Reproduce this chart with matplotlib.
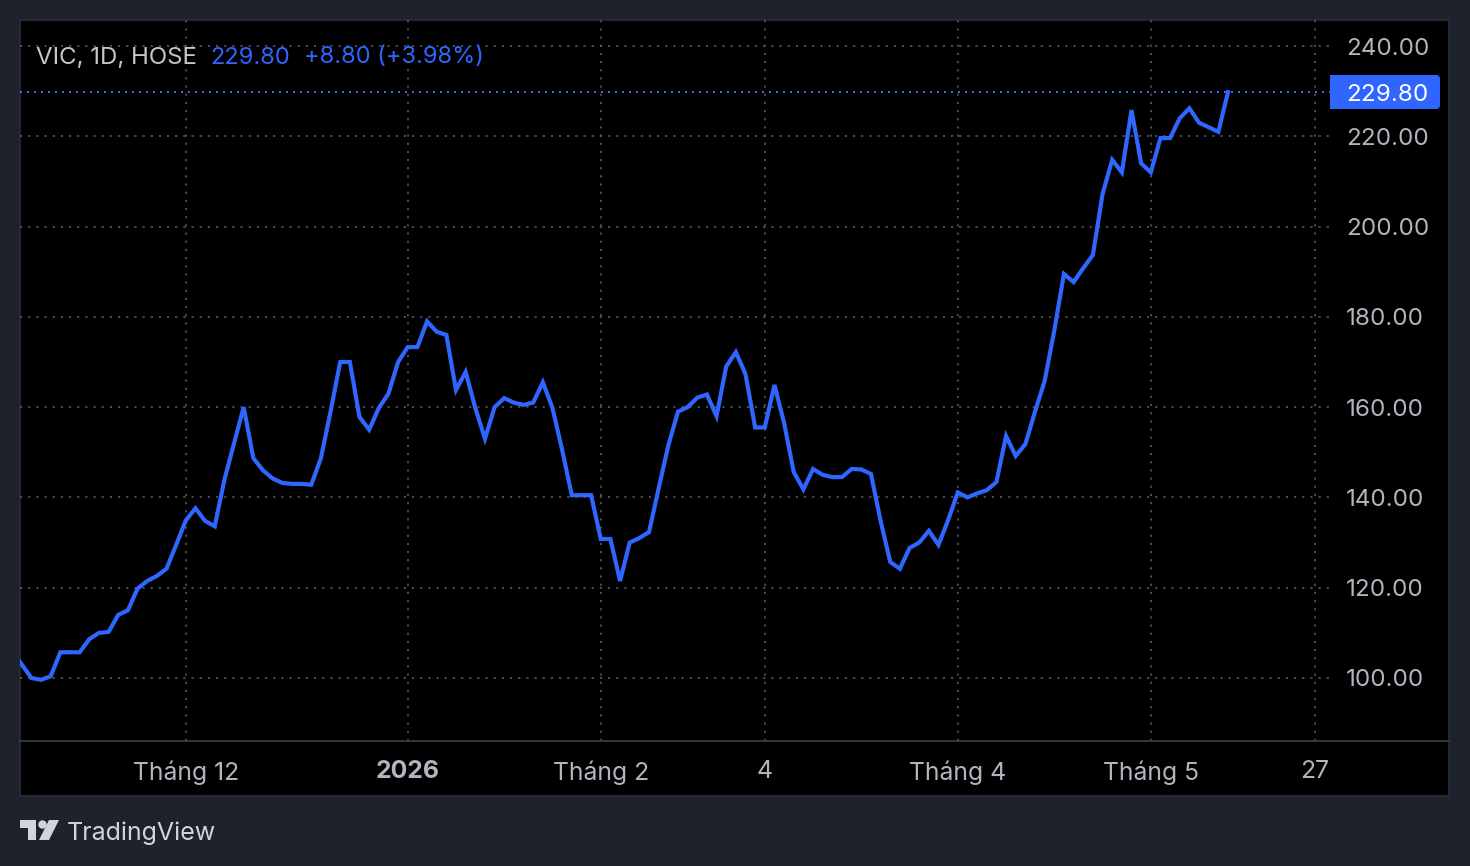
import matplotlib
matplotlib.use("Agg")
import matplotlib.pyplot as plt
from matplotlib import transforms
from matplotlib.patches import Rectangle, FancyBboxPatch, Polygon, Circle

closes = [106, 103, 100, 99.6, 100.4, 105.7, 105.7, 105.7, 108.6, 110, 110.2, 114, 115, 119.8, 121.5, 122.6, 124.2,
          129.5, 134.9, 137.6, 134.8, 133.6, 143.9, 152, 160, 148.7, 146, 144.2, 143.2, 143, 143, 142.8, 148.7,
          159, 170, 170, 157.8, 155, 159.8, 163, 170, 173.3, 173.3, 179, 176.7, 176, 163.8, 167.8, 159.8, 153,
          160, 162, 161, 160.5, 161, 165.5, 159.8, 150.5, 140.5, 140.5, 140.5, 130.8, 130.8, 121.5, 130, 131,
          132.3, 142, 151.5, 159, 160, 162.1, 162.8, 158, 169, 172.2, 167.3, 155.5, 155.5, 164.9, 156.5, 145.6,
          141.8, 146.3, 145, 144.5, 144.5, 146.3, 146.2, 145.2, 134.8, 125.7, 124.2, 128.8, 130, 132.6, 129.5,
          135, 141.1, 140, 140.9, 141.6, 143.4, 153.6, 149.2, 151.8, 159, 165.8, 177, 189.5, 187.7, 190.8, 193.7,
          207.2, 214.8, 212, 225.8, 214, 212, 219.6, 219.6, 224, 226.2, 223, 222, 221, 229.8]
price_ticks = [100, 120, 140, 160, 180, 200, 220, 240]
time_labels = ["Tháng 12", "2026", "Tháng 2", "4", "Tháng 4", "Tháng 5", "27"]
time_idx = [18, 41, 61, 78, 98, 118, 135]
last = 229.80
header_left = "VIC, 1D, HOSE"
header_price = "229.80"
header_change = "+8.80 (+3.98%)"

BG, BLUE, GRAY = "#1e222d", "#2e66ff", "#b2b5be"
plt.rcParams["font.family"] = ["Inter", "DejaVu Sans"]
W, H = 1470, 866
fig = plt.figure(figsize=(W / 100, H / 100), dpi=100, facecolor=BG)
px = transforms.Affine2D().scale(1 / W, -1 / H).translate(0, 1) + fig.transFigure

fig.add_artist(Rectangle((20, 20), 1429, 776, transform=px, fc="black", ec="#2a2e39", lw=1.2, zorder=-5))
L, R, T, B = 20, 1332, 20, 741
ax = fig.add_axes([L / W, 1 - B / H, (R - L) / W, (B - T) / H], facecolor="none", zorder=1)
x0, dx = 1228 - (len(closes) - 1) * 9.65, 9.65
ax.set_xlim((L - x0) / dx, (R - x0) / dx)
ax.set_ylim(100 - (B - 678) / 4.514, 240 + (46 - T) / 4.514)
for s in ax.spines.values():
    s.set_visible(False)
ax.set_xticks(time_idx)
ax.set_xticklabels(time_labels, fontsize=17.8, color=GRAY)
ax.get_xticklabels()[1].set_fontweight("bold")
ax.set_yticks(price_ticks)
ax.set_yticklabels([f"{p:.2f}" for p in price_ticks], fontsize=17.4, color=GRAY)
ax.yaxis.tick_right()
ax.tick_params(axis="y", length=0, pad=10)
ax.tick_params(axis="x", length=0, pad=14)
ax.grid(True, color="#5a5a5a", lw=1.2, ls=(0, (1.3, 3.6)))
ax.set_axisbelow(True)
ax.axhline(last, color="#3d6fff", lw=1.4, ls=(0, (1.0, 2.6)))
ax.plot(range(len(closes)), closes, color=BLUE, lw=3.0, solid_joinstyle="miter")

fig.add_artist(plt.Line2D([20, 1449], [741, 741], transform=px, color="#363a45", lw=1.3, zorder=3))

fig.add_artist(FancyBboxPatch((1334, 77), 104, 30, boxstyle="round,pad=2,rounding_size=4",
                              transform=px, fc=BLUE, ec="none", zorder=3))
fig.add_artist(Rectangle((1330, 75), 10, 34, transform=px, fc=BLUE, ec="none", zorder=3))
fig.text(1346, 92.5, f"{last:.2f}", transform=px, color="white", fontsize=17.4, va="center_baseline", ha="left", zorder=4)

fig.text(36, 55, header_left, transform=px, color="#c4c6cc", fontsize=17.3, va="center_baseline", zorder=4)
fig.text(210, 55, header_price, transform=px, color=BLUE, fontsize=17, va="center_baseline", zorder=4)
fig.text(304, 55, header_change, transform=px, color=BLUE, fontsize=17, va="center_baseline", zorder=4)

# TradingView mark
LOGO = "#d1d4dc"
fig.add_artist(Polygon([(20, 820), (36, 820), (36, 840), (28, 840), (28, 828), (20, 828)], transform=px, fc=LOGO, ec="none", zorder=3))
fig.add_artist(Circle((42.5, 824.5), 4.2, transform=px, fc=LOGO, ec="none", zorder=3))
fig.add_artist(Polygon([(49, 820), (59, 820), (49, 840), (39, 840)], transform=px, fc=LOGO, ec="none", zorder=3))
fig.text(67, 831, "TradingView", transform=px, color=LOGO, fontsize=18, va="center_baseline", zorder=4)

fig.savefig("out.png", dpi=100, facecolor=BG)
